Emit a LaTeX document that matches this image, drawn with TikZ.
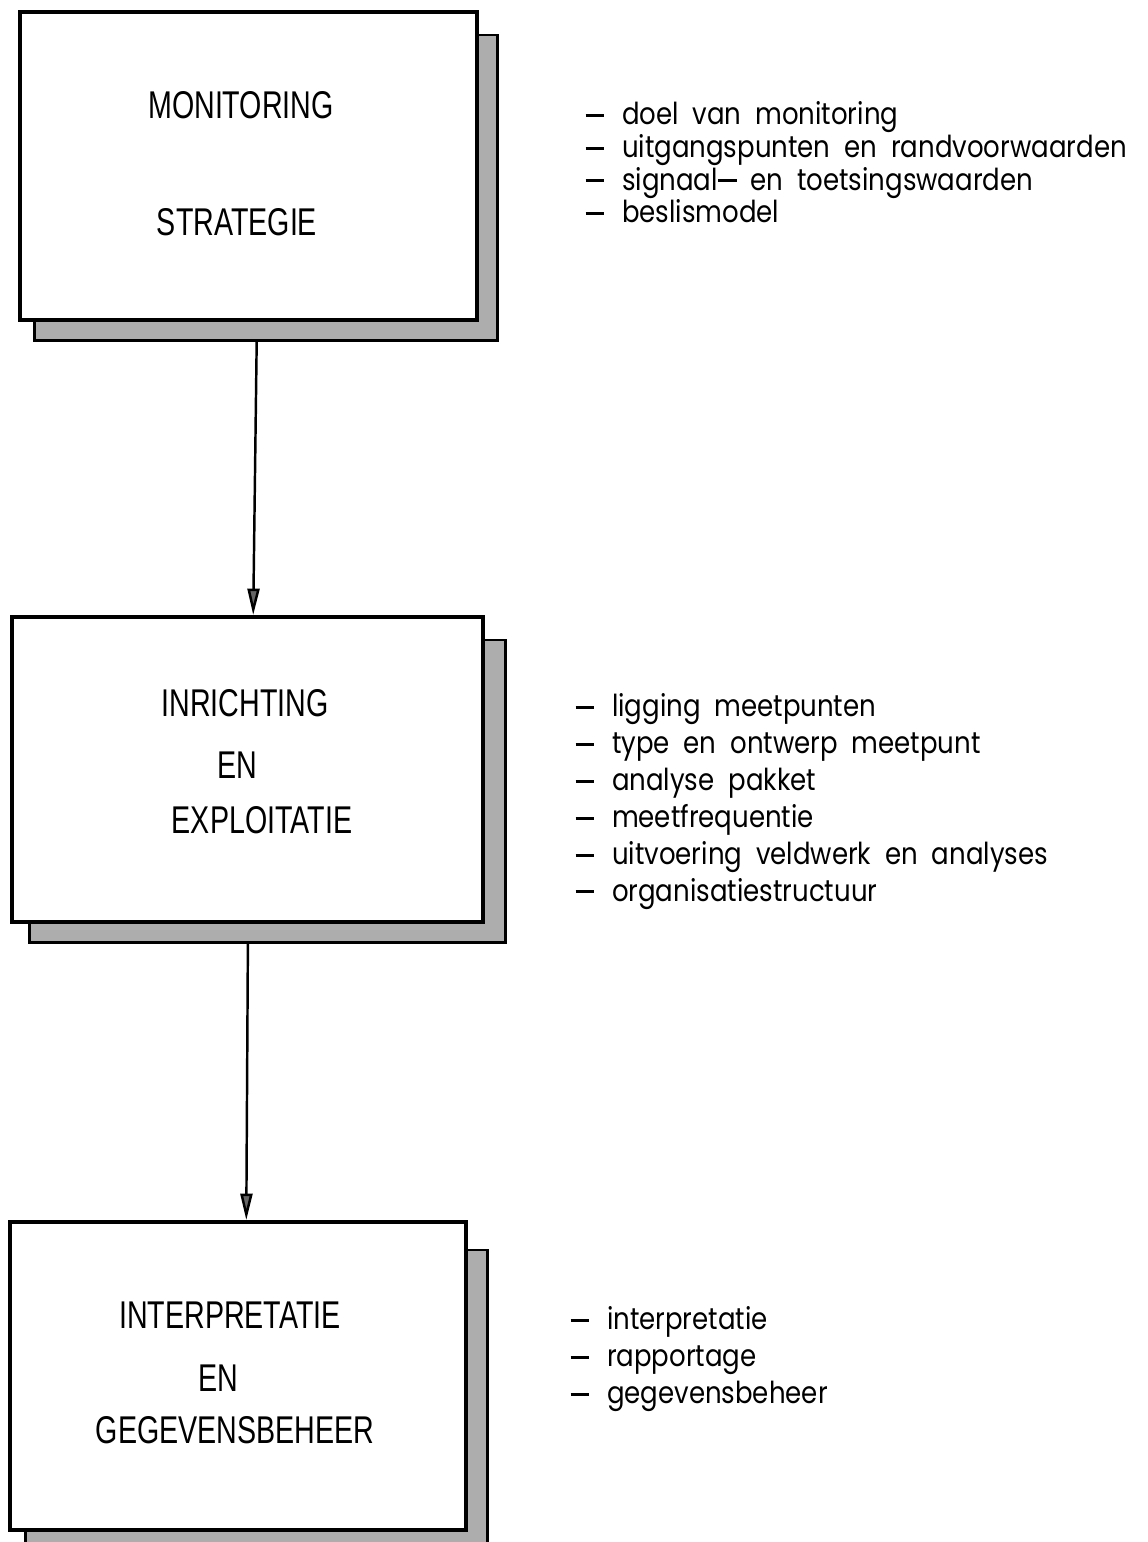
\documentclass[tikz,border=0pt]{standalone}
\usepackage{fontspec}
\usepackage{tikz}
\usetikzlibrary{arrows.meta}
\usetikzlibrary{calc}
\newfontfamily\boxfont[FakeStretch=0.74]{Liberation Sans}
\newfontfamily\listfont[FakeStretch=0.86]{Poppins}
\newcommand{\ldash}{\rule[0.26em]{0.62em}{0.1em}}
\newcommand{\dashitem}{\ldash\hspace{5pt}}

\begin{document}
\begin{tikzpicture}[x=0.01cm,y=-0.01cm]
		\useasboundingbox (0,0) rectangle (1147,1542);

		% shadows
		\begin{scope}[every node/.style={draw,line width=0.8pt,fill=black!32,inner sep=0pt}]
			\node[minimum width=4.62cm,minimum height=3.05cm] (s1) at (266,187.5) {};
			\node[minimum width=4.75cm,minimum height=3.02cm] (s2) at (267.5,791) {};
			\node[minimum width=4.61cm,minimum height=3.10cm] (s3) at (256.5,1405) {};
		\end{scope}

		% boxes
		\begin{scope}[every node/.style={draw,line width=1.1pt,fill=white,inner sep=0pt}]
			\node[minimum width=4.57cm,minimum height=3.08cm] (1) at (248.5,166) {};
			\node[minimum width=4.71cm,minimum height=3.05cm] (2) at (247.5,769.5) {};
			\node[minimum width=4.56cm,minimum height=3.08cm] (3) at (238,1376) {};
		\end{scope}

		% box texts
		\begin{scope}[every node/.style={font=\boxfont\fontsize{11}{13}\selectfont,inner sep=0pt}]
			\node (1a) at (241,105) {MONITORING};
			\node (1b) at (237,222) {STRATEGIE};
			\node (2a) at (245,703) {INRICHTING};
			\node (2b) at (237,765) {EN};
			\node (2c) at (262,820) {EXPLOITATIE};
			\node (3a) at (230,1315) {INTERPRETATIE};
			\node (3b) at (218,1378) {EN};
			\node (3c) at (235,1430) {GEGEVENSBEHEER};
		\end{scope}

		% lists
		\begin{scope}[every node/.style={align=left,anchor=north west,inner sep=0pt}]
			\node[font=\listfont\fontsize{8.6}{9.3}\selectfont] (1l) at (585,101) {%
				\dashitem doel\ \ van\ \ monitoring\\
				\dashitem uitgangspunten\ \ en\ \ randvoorwaarden\\
				\dashitem signaal\ldash\ \ en\ \ toetsingswaarden\\
				\dashitem beslismodel};
			\node[font=\listfont\fontsize{8.6}{10.5}\selectfont] (2l) at (575,693) {%
				\dashitem ligging\ \ meetpunten\\
				\dashitem type\ \ en\ \ ontwerp\ \ meetpunt\\
				\dashitem analyse\ \ pakket\\
				\dashitem meetfrequentie\\
				\dashitem uitvoering\ \ veldwerk\ \ en\ \ analyses\\
				\dashitem organisatiestructuur};
			\node[font=\listfont\fontsize{8.6}{10.5}\selectfont] (3l) at (570,1306) {%
				\dashitem interpretatie\\
				\dashitem rapportage\\
				\dashitem gegevensbeheer};
		\end{scope}

		% arrows
		\begin{scope}[>={Triangle[length=7.5pt,width=3.4pt,fill=black!60]},
		              every edge/.style={draw=black,line width=0.7pt}]
			\path ($(s1.south west)!0.48!(s1.south east)$) edge[->] ($(2.north west)!0.512!(2.north east)$);
			\path ($(s2.south west)!0.459!(s2.south east)$) edge[->] ($(3.north west)!0.518!(3.north east)$);
		\end{scope}
\end{tikzpicture}
\end{document}
